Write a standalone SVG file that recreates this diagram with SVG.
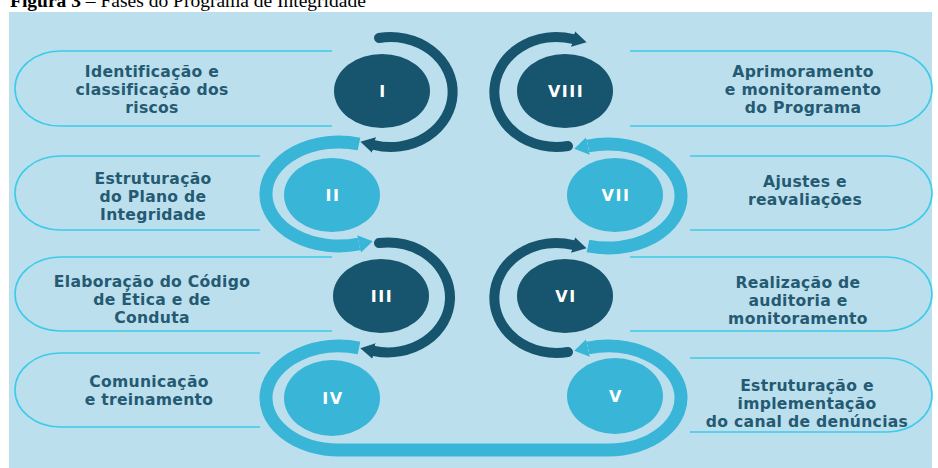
<svg xmlns="http://www.w3.org/2000/svg" width="938" height="468" viewBox="0 0 938 468">
  <defs>
    <style>
      .title { font-family: "Liberation Serif", "Times New Roman", serif; font-size: 19.5px; fill: #000; }
      .bg { fill: #bcdfed; }
      .pill { fill: none; stroke: #3ccbe9; stroke-width: 1.6; }
      .label { font-family: "DejaVu Sans", "Liberation Sans", sans-serif; font-weight: bold; font-size: 15.6px; letter-spacing: 0.3px; fill: #245a72; text-anchor: middle; }
      .num { font-family: "DejaVu Sans", "Liberation Sans", sans-serif; font-weight: bold; font-size: 16px; fill: #ffffff; text-anchor: middle; letter-spacing: 1.5px; }
      .dark { fill: #17546d; }
      .light { fill: #38b5d7; }
      .arc-dark { fill: none; stroke: #17546d; stroke-width: 10; stroke-linecap: round; marker-end: url(#headDark); }
      .arc-light { fill: none; stroke: #38b5d7; stroke-width: 13; stroke-linecap: butt; marker-end: url(#headLight); }
    </style>
    <marker id="headDark" viewBox="0 0 14 16" refX="0" refY="8" markerWidth="14" markerHeight="16" markerUnits="userSpaceOnUse" orient="auto">
      <path d="M0,0 L14,8 L0,16 Z" fill="#17546d"/>
    </marker>
    <marker id="headLight" viewBox="0 0 14 18" refX="0" refY="9" markerWidth="14" markerHeight="18" markerUnits="userSpaceOnUse" orient="auto">
      <path d="M0,0 L14,9 L0,18 Z" fill="#38b5d7"/>
    </marker>
  </defs>

  <!-- caption -->
  <text class="title" x="10" y="7"><tspan font-weight="bold">Figura 3</tspan> – Fases do Programa de Integridade</text>

  <!-- panel -->
  <rect class="bg" x="9" y="12" width="923" height="456"/>

  <!-- label outlines -->
  <g id="outlines">
    <path class="pill" d="M332,51 H60 A45,37.5 0 0 0 60,126 H332"/>
    <path class="pill" d="M260,156 H60 A45,37 0 0 0 60,230 H260"/>
    <path class="pill" d="M332,257 H60 A45,37 0 0 0 60,331 H332"/>
    <path class="pill" d="M260,353 H60 A45,37 0 0 0 60,427 H260"/>
    <path class="pill" d="M630,51 H887 A45,37.5 0 0 1 887,126 H630"/>
    <path class="pill" d="M690,156 H887 A45,37 0 0 1 887,230 H690"/>
    <path class="pill" d="M630,257 H887 A45,37 0 0 1 887,331 H630"/>
    <path class="pill" d="M690,358 H887 A45,37 0 0 1 887,432 H690"/>
  </g>

  <!-- cycle arrows, drawn so each head sits over the next arc's tail -->
  <g id="connectors">
    <path class="arc-dark" d="M568,146 A62,55 0 1 1 573,39"/>
    <path class="arc-light" d="M588,246 A73,52 0 1 0 588,146"/>
    <path class="arc-dark" d="M568,352 A62,55 0 1 1 573,245"/>
    <path class="arc-light" d="M359,348 A73,52 0 1 0 340,450 H607 A73,52 0 1 0 588,348"/>
    <path class="arc-dark" d="M379,243 A62,55 0 1 1 374,351"/>
    <path class="arc-light" d="M359,144 A73,52 0 1 0 359,244"/>
    <path class="arc-dark" d="M379,38 A62,55 0 1 1 374,145"/>
  </g>

  <g id="step-1">
    <ellipse class="dark" cx="382" cy="91" rx="48" ry="37"/>
    <text class="num" x="383" y="97">I</text>
    <text class="label"><tspan x="152" y="77">Identificação e</tspan><tspan x="152" y="95">classificação dos</tspan><tspan x="152" y="113">riscos</tspan></text>
  </g>
  <g id="step-2">
    <ellipse class="light" cx="332" cy="195" rx="48" ry="37"/>
    <text class="num" x="333" y="201">II</text>
    <text class="label"><tspan x="153" y="184">Estruturação</tspan><tspan x="153" y="202">do Plano de</tspan><tspan x="153" y="220">Integridade</tspan></text>
  </g>
  <g id="step-3">
    <ellipse class="dark" cx="381" cy="296" rx="48" ry="37"/>
    <text class="num" x="382" y="302">III</text>
    <text class="label"><tspan x="152" y="287">Elaboração do Código</tspan><tspan x="152" y="305">de Ética e de</tspan><tspan x="152" y="323">Conduta</tspan></text>
  </g>
  <g id="step-4">
    <ellipse class="light" cx="332" cy="398" rx="48" ry="38"/>
    <text class="num" x="333" y="404">IV</text>
    <text class="label"><tspan x="149" y="387">Comunicação</tspan><tspan x="149" y="405">e treinamento</tspan></text>
  </g>
  <g id="step-5">
    <ellipse class="light" cx="615" cy="396" rx="48" ry="38"/>
    <text class="num" x="616" y="402">V</text>
    <text class="label"><tspan x="807" y="391">Estruturação e</tspan><tspan x="807" y="409">implementação</tspan><tspan x="807" y="427">do canal de denúncias</tspan></text>
  </g>
  <g id="step-6">
    <ellipse class="dark" cx="565" cy="296" rx="48" ry="37"/>
    <text class="num" x="566" y="302">VI</text>
    <text class="label"><tspan x="798" y="288">Realização de</tspan><tspan x="798" y="306">auditoria e</tspan><tspan x="798" y="324">monitoramento</tspan></text>
  </g>
  <g id="step-7">
    <ellipse class="light" cx="615" cy="195" rx="48" ry="37"/>
    <text class="num" x="616" y="201">VII</text>
    <text class="label"><tspan x="805" y="187">Ajustes e</tspan><tspan x="805" y="205">reavaliações</tspan></text>
  </g>
  <g id="step-8">
    <ellipse class="dark" cx="565" cy="91" rx="48" ry="37"/>
    <text class="num" x="566" y="97">VIII</text>
    <text class="label"><tspan x="803" y="77">Aprimoramento</tspan><tspan x="803" y="95">e monitoramento</tspan><tspan x="803" y="113">do Programa</tspan></text>
  </g>
</svg>
